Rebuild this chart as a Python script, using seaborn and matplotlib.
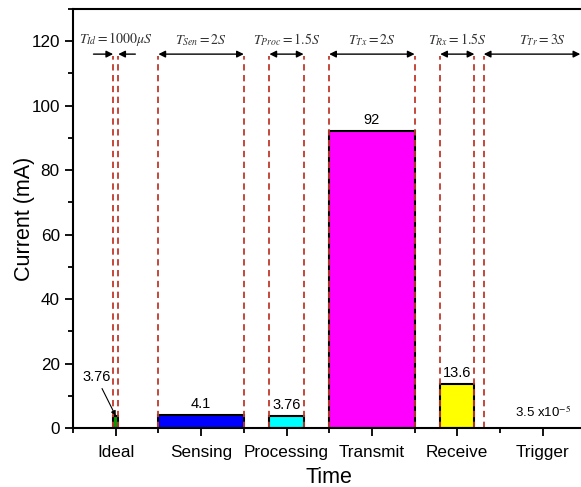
import matplotlib
matplotlib.use("Agg")
import matplotlib.pyplot as plt
import seaborn as sns
from matplotlib.ticker import MultipleLocator, FixedLocator

# Current drawn in each operating phase of the node
phases = ["Ideal", "Sensing", "Processing", "Transmit", "Receive", "Trigger"]
current_ma = [3.76, 4.1, 3.76, 92, 13.6, 3.5e-5]
value_labels = ["3.76", "4.1", "3.76", "92", "13.6", r"3.5 x10$^{-5}$"]
duration_labels = [
    r"$T_{Id}=1000\mu S$",
    r"$T_{Sen}=2S$",
    r"$T_{Proc}=1.5S$",
    r"$T_{Tx}=2S$",
    r"$T_{Rx}=1.5S$",
    r"$T_{Tr}=3S$",
]

# Display width of each phase bar (in category units)
bar_widths = [0.06, 1.0, 0.4, 1.0, 0.4, 1.38]
bar_colors = ["#00a000", "#0000ff", "#00ffff", "#ff00ff", "#ffff00", "#ffffff"]

sns.set_style("ticks")
plt.rcParams["font.family"] = ["Liberation Sans", "DejaVu Sans"]
plt.rcParams["mathtext.fontset"] = "stix"
plt.rcParams["text.color"] = "black"
plt.rcParams["axes.labelcolor"] = "black"
plt.rcParams["xtick.color"] = "black"
plt.rcParams["ytick.color"] = "black"
plt.rcParams["axes.edgecolor"] = "black"

fig = plt.figure(figsize=(5.81, 4.87), dpi=100)
ax = fig.add_axes([73 / 581, 59 / 487, 512.4 / 581, 419 / 487])

sns.barplot(x=phases, y=current_ma, hue=phases, palette=bar_colors, legend=False,
            saturation=1, edgecolor="black", linewidth=1.5, ax=ax)

edges = []
for patch, w, name in zip(ax.patches, bar_widths, phases):
    c = patch.get_x() + patch.get_width() / 2
    patch.set_width(w)
    patch.set_x(c - w / 2)
    if name == "Trigger":
        patch.set_edgecolor("none")
        patch.set_facecolor("none")
    edges.append((c - w / 2, c, c + w / 2))

ax.set_xlim(-0.5, 5.5)
ax.set_ylim(0, 130)

# Duration brackets: dashed edges, double arrows and labels
dash_top = 115.5
arrow_y = 116
x_right_visible = 5.44
dash_color = "#c0392b"
for i, (lo, c, hi) in enumerate(edges):
    ax.plot([lo, lo], [0, dash_top], ls=(0, (3.5, 2.5)), color=dash_color, lw=1.3, zorder=1)
    ax.plot([hi, hi], [0, dash_top], ls=(0, (3.5, 2.5)), color=dash_color, lw=1.3, zorder=1)
    if hi - lo < 0.2:
        ax.annotate("", xy=(lo, arrow_y), xytext=(lo - 0.23, arrow_y),
                    arrowprops=dict(arrowstyle="-|>", color="black", lw=1,
                                    mutation_scale=10, shrinkA=0, shrinkB=0))
        ax.annotate("", xy=(hi, arrow_y), xytext=(hi + 0.2, arrow_y),
                    arrowprops=dict(arrowstyle="-|>", color="black", lw=1,
                                    mutation_scale=10, shrinkA=0, shrinkB=0))
    else:
        ax.annotate("", xy=(lo, arrow_y), xytext=(min(hi, x_right_visible), arrow_y),
                    arrowprops=dict(arrowstyle="<|-|>", color="black", lw=1,
                                    mutation_scale=10, shrinkA=0, shrinkB=0))
    ax.text(c, 118, duration_labels[i], ha="center", va="bottom", fontsize=10,
            color="#333333")

# Value labels
for i, (lo, c, hi) in enumerate(edges):
    v = current_ma[i]
    if phases[i] == "Ideal":
        ax.annotate(value_labels[i], xy=(c, v), xytext=(-14, 28),
                    textcoords="offset points", ha="center", va="center", fontsize=10.5,
                    arrowprops=dict(arrowstyle="-|>", color="black", lw=0.8,
                                    mutation_scale=7, shrinkA=1, shrinkB=0))
    elif phases[i] == "Trigger":
        ax.annotate(value_labels[i], xy=(c, v), xytext=(0, 6),
                    textcoords="offset points", ha="center", va="bottom", fontsize=9.5)
    else:
        ax.annotate(value_labels[i], xy=(c, v), xytext=(0, 3),
                    textcoords="offset points", ha="center", va="bottom", fontsize=10.5)

# Axes styling
ax.yaxis.set_major_locator(MultipleLocator(20))
ax.yaxis.set_minor_locator(MultipleLocator(10))
ax.xaxis.set_minor_locator(FixedLocator([-0.5, 0.5, 1.5, 2.5, 3.5, 4.5, 5.5]))
ax.tick_params(axis="both", which="major", direction="out", length=6, width=1.3,
               labelsize=12.3)
ax.tick_params(axis="both", which="minor", direction="out", length=3.5, width=1.3)
ax.tick_params(axis="x", pad=6)
for s in ax.spines.values():
    s.set_linewidth(1.5)
    s.set_visible(True)

ax.set_xlabel("Time", fontsize=15.5, labelpad=5)
ax.set_ylabel("Current (mA)", fontsize=15.5, labelpad=-3)

fig.savefig("out.png", dpi=100)
